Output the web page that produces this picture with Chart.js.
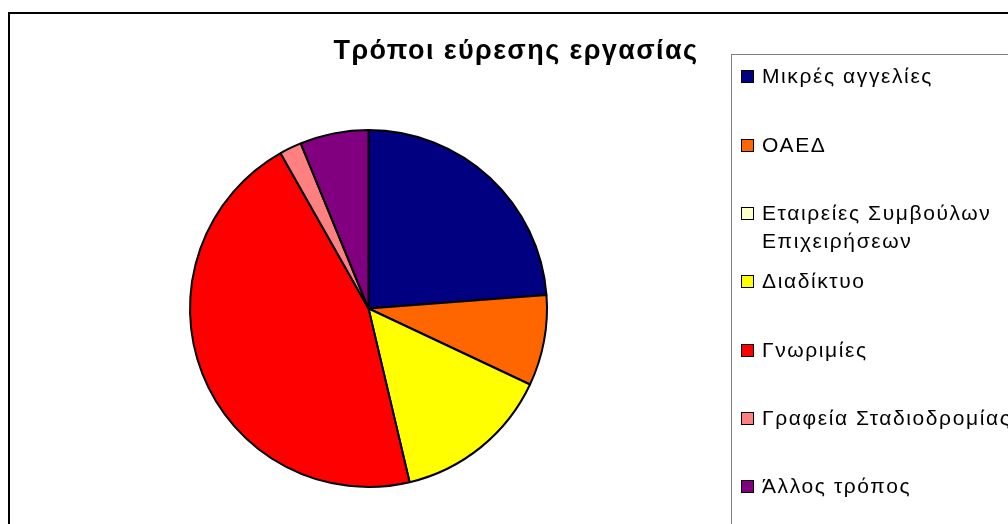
<!DOCTYPE html>
<html>
<head>
<meta charset="utf-8">
<script src="https://cdn.jsdelivr.net/npm/chart.js@4/dist/chart.umd.min.js"></script>
<style>
    body { margin: 0; width: 1008px; height: 524px; overflow: hidden; background: #fff;
           font-family: 'Liberation Sans', Arial, sans-serif; }
    #frame { position: absolute; left: 8px; top: 12px; width: 1100px; height: 600px;
             border: 2px solid #000; box-sizing: border-box; }
    #chart { position: absolute; left: 0; top: 0; }
    #title { position: absolute; left: 296px; width: 440px; top: 34px; text-align: center;
             font-weight: bold; font-size: 27px; line-height: 32px; letter-spacing: 1.4px; color: #000; }
    #legend { position: absolute; left: 731px; top: 54px; width: 400px; height: 600px;
              border: 1px solid #808080; box-sizing: border-box; }
    .item { position: absolute; left: 30px; width: 275px; font-size: 21px; line-height: 28px;
            letter-spacing: 1.6px; color: #000; }
    .box { position: absolute; left: -21px; top: 8px; width: 11px; height: 11px; border: 1px solid #000; }
</style>
</head>
<body>
<div id="frame"></div>
<canvas id="chart" width="1008" height="524"></canvas>
<div id="title">Τρόποι εύρεσης εργασίας</div>
<div id="legend"></div>
<script>
const categories = [
    'Μικρές αγγελίες',
    'ΟΑΕΔ',
    'Εταιρείες Συμβούλων Επιχειρήσεων',
    'Διαδίκτυο',
    'Γνωριμίες',
    'Γραφεία Σταδιοδρομίας',
    'Άλλος τρόπος'
];
// share of answers, in percent
const shares = [23.8, 8.2, 0, 14.3, 45.5, 2.0, 6.2];
const colors = ['#000080', '#FF6600', '#FFFFCC', '#FFFF00', '#FF0000', '#FF8080', '#800080'];

const chart = new Chart(document.getElementById('chart'), {
    type: 'pie',
    data: {
        labels: categories,
        datasets: [{
            data: shares,
            backgroundColor: colors,
            borderColor: '#000',
            borderWidth: 2,
            hoverOffset: 0
        }]
    },
    options: {
        responsive: false,
        animation: false,
        events: [],
        layout: { padding: { left: 189, top: 129, right: 460, bottom: 36 } },
        plugins: {
            legend: { display: false },
            title: { display: false },
            tooltip: { enabled: false }
        }
    }
});

// legend rows built from the chart's own labels and colours
const legend = document.getElementById('legend');
const ROW_STEP = 68.3;
categories.forEach((label, i) => {
    const item = document.createElement('div');
    item.className = 'item';
    item.style.top = (7.4 + i * ROW_STEP) + 'px';
    const box = document.createElement('span');
    box.className = 'box';
    box.style.background = colors[i];
    item.appendChild(box);
    item.appendChild(document.createTextNode(label));
    legend.appendChild(item);
});
</script>
</body>
</html>
